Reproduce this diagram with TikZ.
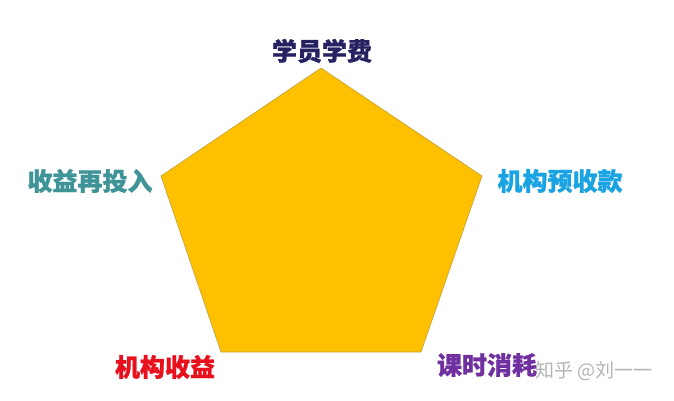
\documentclass[tikz,border=0pt]{standalone}
\usepackage{fontspec}
\newfontfamily\cjk[BoldFeatures={FakeBold=0.8}]{Noto Sans CJK SC}
\definecolor{gold}{HTML}{FFC000}
\definecolor{edge}{HTML}{BFA040}
\definecolor{navy}{HTML}{262262}
\definecolor{teal}{HTML}{3F9498}
\definecolor{skyb}{HTML}{1AA3E2}
\definecolor{redc}{HTML}{E8101C}
\definecolor{purp}{HTML}{7030A0}
\definecolor{wm}{HTML}{A8A8A8}
\tikzset{
  lab/.style={font=\cjk\bfseries\fontsize{25bp}{30bp}\selectfont, inner sep=0pt},
  wmark/.style={font=\cjk\fontsize{19bp}{22bp}\selectfont, text=wm, inner sep=0pt, opacity=0.85}
}
\begin{document}
\begin{tikzpicture}[x=1bp,y=-1bp]
\useasboundingbox (0,0) rectangle (674,400);
\fill[white] (0,0) rectangle (674,400);
\coordinate (t) at (321,68);
\coordinate (r) at (482,176);
\coordinate (br) at (421,352);
\coordinate (bl) at (221,352);
\coordinate (l) at (161,176);
\draw[fill=gold, draw=edge, line width=0.6bp] (t) -- (r) -- (br) -- (bl) -- (l) -- cycle;
\node[lab, text=navy] (n1) at (322,51) {学员学费};
\node[lab, text=skyb] (n2) at (560,181) {机构预收款};
\node[lab, text=purp] (n3) at (487,365) {课时消耗};
\node[lab, text=redc] (n4) at (165,367) {机构收益};
\node[lab, text=teal] (n5) at (90,181) {收益再投入};
\node[wmark, anchor=west] (w) at (535,371) {知乎 @刘一一};
\end{tikzpicture}
\end{document}
